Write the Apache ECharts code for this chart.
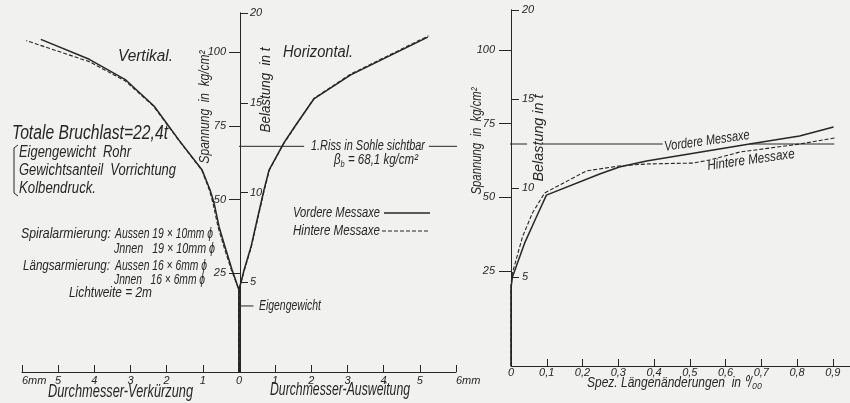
<!DOCTYPE html>
<html><head><meta charset="utf-8">
<script src="https://cdn.jsdelivr.net/npm/echarts@6/dist/echarts.min.js"></script>
<style>html,body{margin:0;padding:0;background:#f1f1ef}#c{width:850px;height:403px}</style>
</head><body><div id="c"></div>
<script>
// ---------------- data ----------------
const leftXTicks = [-6,-5,-4,-3,-2,-1,0,1,2,3,4,5,6];
const rightXTicks = [0,0.1,0.2,0.3,0.4,0.5,0.6,0.7,0.8,0.9];
const loadTicks = [5,10,15,20];
const stressTicks = [25,50,75,100];
const eigengewicht = 3.68;      // t
const eigTick = [0, 0.4];       // mm, short marker line at Eigengewicht
const rissStress = 68.1;        // kg/cm2
// left chart: x = Durchmesser change in mm (negative = Verkürzung), y = load in t
const vertVordere = [[0,0],[0,4.57],[-0.19,5.68],[-0.36,6.80],[-0.55,8.08],[-0.69,9.42],[-0.80,10.14],[-1.02,11.25],[-1.66,12.92],[-2.35,14.82],[-3.13,16.27],[-4.14,17.42],[-5.48,18.53]];
const vertHintere = [[0,0],[0,4.57],[-0.21,5.68],[-0.39,6.80],[-0.58,8.08],[-0.72,9.42],[-0.82,10.14],[-1.03,11.25],[-1.67,12.92],[-2.36,14.80],[-3.15,16.22],[-4.14,17.29],[-5.88,18.46]];
const horVordere = [[0,0],[0,4.57],[0.14,5.68],[0.33,6.96],[0.50,8.47],[0.69,10.14],[0.83,11.25],[1.24,12.76],[1.57,13.76],[2.07,15.21],[3.09,16.55],[5.22,18.66]];
const horHintere = [[0,0],[0,4.57],[0.15,5.68],[0.34,6.96],[0.51,8.47],[0.70,10.14],[0.84,11.25],[1.25,12.76],[1.58,13.76],[2.07,15.24],[3.09,16.60],[5.24,18.73]];
// right chart: x = spez. Längenänderung in promille, y = load in t
const rightVordere = [[0,0],[0,4.38],[0.004,5.0],[0.038,6.9],[0.071,8.37],[0.099,9.6],[0.248,10.79],[0.303,11.18],[0.379,11.52],[0.667,12.47],[0.807,12.92],[0.902,13.43]];
const rightHintere = [[0,0],[0,4.6],[0.004,5.22],[0.032,7.25],[0.06,8.6],[0.094,9.72],[0.211,10.96],[0.303,11.24],[0.379,11.35],[0.508,11.4],[0.555,11.57],[0.64,12.02],[0.807,12.47],[0.905,12.81]];
// crack line segments (x ranges) at rissStress
const rissLeftSegs = [[0,1.8],[5.25,6.35]];
const rissRightSegs = [[-0.078,0.045],[0.089,0.424],[0.667,0.904]];

// ---------------- styles ----------------
const FF = "'Liberation Sans',Arial,sans-serif";
const INK = '#262626';
const BG = '#f1f1ef';
const lbl = {color: INK, fontStyle: 'italic', fontFamily: FF, fontSize: 11};

function yAx(opts){
  return Object.assign({
    type:'value', splitLine:{show:false},
    axisLine:{show:true, onZero:false, lineStyle:{color:INK, width:1}},
  }, opts);
}

const chart = echarts.init(document.getElementById('c'), null, {renderer:'canvas'});
const series = [];
function line(name, data, xi, yi, dashed, w){
  series.push({name, type:'line', data, xAxisIndex:xi, yAxisIndex:yi, showSymbol:false, symbol:'none',
    clip:false, silent:true, animation:false, itemStyle:{color:INK},
    lineStyle:{color:INK, width:w || (dashed?1.1:1.5), type: dashed?[4,2]:'solid'}, z:3});
}
line('Vordere Messaxe', vertVordere, 0, 1, false);
line('Hintere Messaxe', vertHintere, 0, 1, true);
line('Vordere Messaxe', horVordere, 0, 1, false);
line('Hintere Messaxe', horHintere, 0, 1, true);
line('Vordere Messaxe', rightVordere, 1, 3, false);
line('Hintere Messaxe', rightHintere, 1, 3, true);
rissLeftSegs.forEach(s => line('Riss', [[s[0],rissStress],[s[1],rissStress]], 0, 0, false, 1));
rissRightSegs.forEach(s => line('Riss', [[s[0],rissStress],[s[1],rissStress]], 1, 2, false, 1));
line('Eigengewicht', [[eigTick[0],eigengewicht],[eigTick[1],eigengewicht]], 0, 1, false, 1);

// text fitted to a target width (narrow technical lettering)
const mctx = document.createElement('canvas').getContext('2d');
function measure(text, size){ mctx.font = 'italic ' + size + 'px ' + FF; return mctx.measureText(text).width; }
function ft(text, x, y, size, w, opt){
  opt = opt || {};
  const sx = w / measure(text, size);
  return {type:'text', x, y, rotation: opt.rotation || 0, scaleX: sx, scaleY: 1, silent:true, z:10,
    style:{text, fill:INK, fontFamily:FF, fontStyle:'italic', fontSize:size, align: opt.align || 'left', verticalAlign:'middle'}};
}
const R90 = Math.PI/2;
const ROT = 8*Math.PI/180;
const betaMain = ' = 68,1 kg/cm²';
const betaScale = 84 / (measure('β', 14) + measure('b', 9) + measure(betaMain, 14));
const graphics = [
  ft('Vertikal.', 118, 57, 16, 55),
  ft('Horizontal.', 283, 53, 16, 70),
  ft('Totale Bruchlast=22,4t', 12, 133, 20, 156),
  ft('Eigengewicht  Rohr', 19, 153, 16, 112),
  ft('Gewichtsanteil  Vorrichtung', 19, 171, 16, 157),
  ft('Kolbendruck.', 19, 189, 16, 77),
  {type:'polyline', silent:true, shape:{points:[[18,145],[14,148],[14,193],[18,196]]}, style:{stroke:INK, fill:null, lineWidth:1}},
  ft('Spiralarmierung:', 21, 234, 14, 90),
  ft('Aussen 19 × 10mm ϕ', 115, 234, 14, 98),
  ft('Jnnen   19 × 10mm ϕ', 114, 249, 14, 101),
  ft('Längsarmierung:', 23, 266, 14, 87),
  ft('Aussen 16 × 6mm ϕ', 115, 266, 14, 92),
  ft('Jnnen   16 × 6mm ϕ', 114, 280, 14, 91),
  ft('Lichtweite = 2m', 69, 293, 14, 83),
  ft('1.Riss in Sohle sichtbar', 311, 146, 14, 114),
  {type:'text', x:334, y:160, scaleX:betaScale, silent:true, z:10,
   style:{text:'{b|β}{s|b}{b|' + betaMain + '}', align:'left', verticalAlign:'middle', fill:INK,
     rich:{b:{fontFamily:FF, fontStyle:'italic', fontSize:14, fill:INK}, s:{fontFamily:FF, fontStyle:'italic', fontSize:9, fill:INK, padding:[8,0,0,0]}}}},
  ft('Eigengewicht', 259, 306, 15, 62),
  ft('Durchmesser-Verkürzung', 48, 392, 18, 145),
  ft('Durchmesser-Ausweitung', 270, 390, 18, 140),
  ft('Spez. Längenänderungen  in ⁰/₀₀', 587, 383, 14, 175),
  ft('Spannung  in  kg/cm²', 205, 107, 14, 113, {rotation:R90, align:'center'}),
  ft('Belastung  in t', 266, 90, 15, 85, {rotation:R90, align:'center'}),
  ft('Spannung  in  kg/cm²', 477, 141, 14, 107, {rotation:R90, align:'center'}),
  ft('Belastung in t', 539, 138, 15, 87, {rotation:R90, align:'center'}),
  ft('Vordere Messaxe', 707, 141, 14, 86, {rotation:ROT, align:'center'}),
  ft('Hintere Messaxe', 751, 160, 14, 88, {rotation:ROT, align:'center'}),
  // legend (left chart)
  ft('Vordere Messaxe', 293, 213, 14, 87),
  {type:'line', silent:true, shape:{x1:384, y1:213, x2:430, y2:213}, style:{stroke:INK, lineWidth:1.5}},
  ft('Hintere Messaxe', 293, 231, 14, 87),
  {type:'line', silent:true, shape:{x1:382, y1:231, x2:430, y2:231}, style:{stroke:INK, lineWidth:1.1, lineDash:[4,2]}}
];

const option = {
  backgroundColor: BG,
  animation:false,
  textStyle:{fontFamily:FF},
  grid:[
    {left:22, top:13, width:434, height:359, outerBoundsMode:'none', containLabel:false},
    {left:511, top:10, width:339, height:356, outerBoundsMode:'none', containLabel:false}
  ],
  xAxis:[
    {type:'value', gridIndex:0, min:-6, max:6, interval:1, position:'bottom', splitLine:{show:false},
     axisLine:{onZero:false, lineStyle:{color:INK}},
     axisTick:{inside:true, length:7, customValues:leftXTicks, lineStyle:{color:INK}},
     axisLabel:Object.assign({}, lbl, {margin:3, customValues:leftXTicks, alignMinLabel:'left', alignMaxLabel:'left',
        formatter:v => (v===-6||v===6)?'6mm':String(Math.abs(v))})},
    {type:'value', gridIndex:1, min:0, max:0.948, position:'bottom', splitLine:{show:false},
     axisLine:{onZero:false, lineStyle:{color:INK}},
     axisTick:{inside:true, length:7, customValues:rightXTicks.slice(1), lineStyle:{color:INK}},
     axisLabel:Object.assign({}, lbl, {margin:1, customValues:rightXTicks,
        formatter:v => v===0?'0':v.toFixed(1).replace('.',',')})}
  ],
  yAxis:[
    yAx({gridIndex:0, position:'left', offset:-218, min:-8.48, max:113.34,
      axisTick:{show:true, length:11, customValues:stressTicks, lineStyle:{color:INK}},
      axisLabel:Object.assign({}, lbl, {margin:14, customValues:stressTicks})}),
    yAx({gridIndex:0, position:'right', offset:-216, min:0, max:20,
      axisTick:{show:true, length:8, customValues:loadTicks, lineStyle:{color:INK}},
      axisLabel:Object.assign({}, lbl, {margin:10, customValues:loadTicks})}),
    yAx({gridIndex:1, position:'left', offset:0, min:-7.23, max:113.57,
      axisTick:{show:true, length:12, customValues:stressTicks, lineStyle:{color:INK}},
      axisLabel:Object.assign({}, lbl, {margin:16, customValues:stressTicks})}),
    yAx({gridIndex:1, position:'right', offset:-339, min:0, max:20,
      axisTick:{show:true, length:8, customValues:loadTicks, lineStyle:{color:INK}},
      axisLabel:Object.assign({}, lbl, {margin:11, customValues:loadTicks})})
  ],
  series,
  graphic: graphics
};
chart.setOption(option);
</script></body></html>
